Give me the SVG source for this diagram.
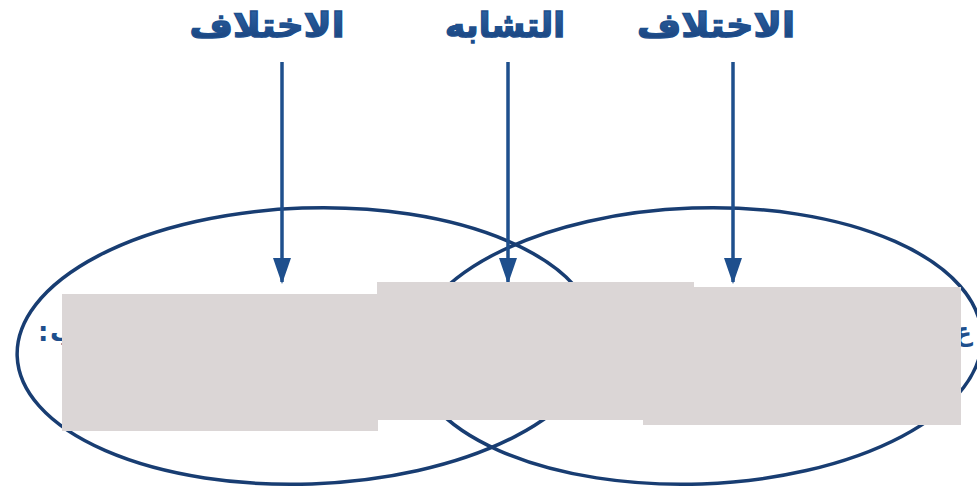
<svg xmlns="http://www.w3.org/2000/svg" width="977" height="489" viewBox="0 0 977 489">
<defs>
<linearGradient id="tg" x1="0" y1="0" x2="0" y2="1">
<stop offset="0" stop-color="#2f66a8"/>
<stop offset="1" stop-color="#173f78"/>
</linearGradient>
<style>
.lbl{font-family:"DejaVu Sans",sans-serif;font-weight:bold;font-size:34px;fill:url(#tg);stroke:#1e4f8d;stroke-width:1.4;text-anchor:middle}
.ell{fill:none;stroke:#183d72;stroke-width:3.5}
.arr{stroke:#1e4f8d;stroke-width:3.5;fill:none}
.cover{fill:#dbd6d6}
.frag{font-family:"DejaVu Sans",sans-serif;font-weight:bold;font-size:26px;fill:#1e4f8d}
</style>
<marker id="ah" viewBox="0 0 26 18" refX="24" refY="9" markerWidth="26" markerHeight="18" markerUnits="userSpaceOnUse" orient="auto">
<path d="M0,0 L26,9 L0,18 z" fill="#1e4f8d"/>
</marker>
</defs>
<rect width="977" height="489" fill="#ffffff"/>
<g id="shapes">
<ellipse id="left-set" class="ell" cx="307" cy="346" rx="290" ry="138" transform="rotate(-2 307 346)"/>
<ellipse id="right-set" class="ell" cx="697" cy="346" rx="285" ry="138" transform="rotate(-2 697 346)"/>
</g>
<g id="label-left"><text class="lbl" x="267" y="37" direction="rtl" textLength="155" lengthAdjust="spacingAndGlyphs">الاختلاف</text></g>
<g id="label-middle"><text class="lbl" x="505" y="37" direction="rtl" textLength="120" lengthAdjust="spacingAndGlyphs">التشابه</text></g>
<g id="label-right"><text class="lbl" x="716" y="37" direction="rtl" textLength="158" lengthAdjust="spacingAndGlyphs">الاختلاف</text></g>
<g id="connectors">
<line class="arr" x1="282" y1="62" x2="282" y2="282" marker-end="url(#ah)"/>
<line class="arr" x1="508" y1="62" x2="508" y2="282" marker-end="url(#ah)"/>
<line class="arr" x1="733" y1="62" x2="733" y2="282" marker-end="url(#ah)"/>
</g>
<g id="fragments">
<text class="frag" x="38" y="341">:</text>
<text class="frag" x="50" y="341">ب</text>
<text class="frag" x="972" y="341" text-anchor="end">ع</text>
</g>
<g id="covers">
<rect class="cover" x="62" y="294" width="316" height="137"/>
<rect class="cover" x="377" y="282" width="317" height="138"/>
<rect class="cover" x="643" y="287" width="318" height="138"/>
</g>
</svg>
